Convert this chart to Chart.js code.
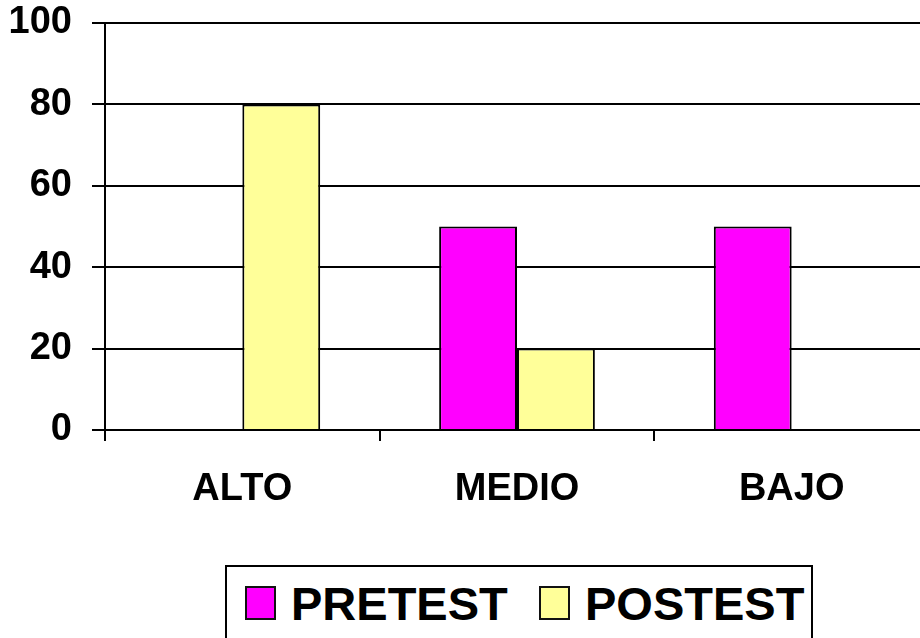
<!DOCTYPE html>
<html>
<head>
<meta charset="utf-8">
<script src="https://cdn.jsdelivr.net/npm/chart.js@4/dist/chart.umd.min.js"></script>
<style>
  html, body { margin: 0; padding: 0; background: #fff; width: 920px; height: 638px; overflow: hidden; }
  #wrap { position: absolute; left: 0; top: 0; width: 930px; height: 638px; }
  #legend { position: absolute; left: 225px; top: 565px; width: 588px; height: 90px; border: 2px solid #000; background: #fff;
            font-family: "Liberation Sans", Arial, sans-serif; font-weight: bold; font-size: 47px; color: #000; box-sizing: border-box; }
  .item { position: absolute; top: 0; height: 72px; display: flex; align-items: center; white-space: nowrap; }
  .sw { width: 27px; height: 30px; border: 2px solid #111; margin-right: 15px; }
</style>
</head>
<body>
<div id="wrap"><canvas id="c"></canvas></div>
<div id="legend"></div>
<script>
const categories = ["ALTO", "MEDIO", "BAJO"];
const pretest = [0, 50, 50];
const postest = [80, 20, 0];
const seriesNames = ["PRETEST", "POSTEST"];
const seriesColors = ["#FF00FF", "#FFFF99"];
const yTicks = [0, 20, 40, 60, 80, 100];

const FONT = '"Liberation Sans", Arial, sans-serif';

const chart = new Chart(document.getElementById('c'), {
  type: 'bar',
  data: {
    labels: categories,
    datasets: [
      { label: seriesNames[0], data: pretest, backgroundColor: seriesColors[0], borderColor: '#000', borderWidth: 2 },
      { label: seriesNames[1], data: postest, backgroundColor: seriesColors[1], borderColor: '#000', borderWidth: 2 }
    ]
  },
  options: {
    responsive: true,
    maintainAspectRatio: false,
    animation: false,
    datasets: { bar: { categoryPercentage: 0.567, barPercentage: 1.0 } },
    layout: { padding: { top: 23, right: 1, left: 0, bottom: 0 } },
    plugins: { legend: { display: false }, tooltip: { enabled: false }, title: { display: false } },
    scales: {
      x: {
        grid: { offset: true, drawOnChartArea: false, drawTicks: true, tickLength: 11, color: '#000', lineWidth: 2 },
        border: { display: true, color: '#000', width: 2 },
        ticks: { color: '#000', font: { family: FONT, size: 38, weight: 'bold' }, padding: 26, maxRotation: 0 },
        afterFit: (s) => { s.height = 208; }
      },
      y: {
        min: yTicks[0], max: yTicks[yTicks.length - 1],
        afterBuildTicks: (s) => { s.ticks = yTicks.map(v => ({ value: v })); },
        grid: { color: '#000', lineWidth: 2, tickLength: 13, drawTicks: true },
        border: { display: true, color: '#000', width: 2 },
        ticks: { color: '#000', font: { family: FONT, size: 38, weight: 'bold' }, padding: 20 },
        afterFit: (s) => { s.width = 105; s.paddingTop = 0; s.paddingBottom = 0; }
      }
    }
  }
});

// legend built from the chart's datasets
const leg = document.getElementById('legend');
const lefts = [18, 312];
chart.data.datasets.forEach((ds, i) => {
  const it = document.createElement('div');
  it.className = 'item';
  it.style.left = lefts[i] + 'px';
  const sw = document.createElement('div');
  sw.className = 'sw';
  sw.style.background = ds.backgroundColor;
  const tx = document.createElement('span');
  tx.textContent = ds.label;
  it.appendChild(sw); it.appendChild(tx);
  leg.appendChild(it);
});
</script>
</body>
</html>
